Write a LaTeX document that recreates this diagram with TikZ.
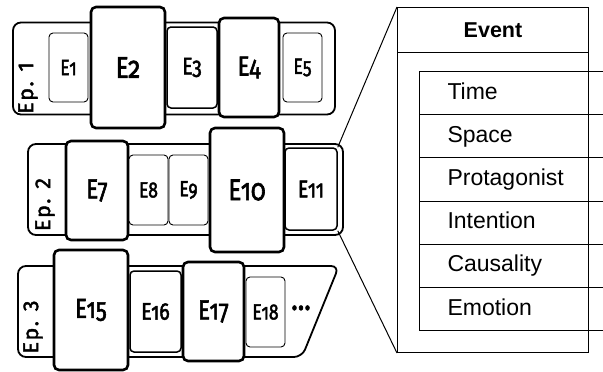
\documentclass[tikz,border=0pt]{standalone}
\usepackage{fontspec}
\setmainfont{Liberation Sans}
\newfontfamily\evfont[FakeStretch=0.8, FakeBold=2, Numbers=OldStyle]{Fira Sans}
\newfontfamily\epfont[FakeBold=2, LetterSpace=8]{Fira Sans}

\begin{document}
\begin{tikzpicture}[x=1pt, y=-1pt,
  ep/.style={draw, line width=1.8pt, rounded corners=8pt, inner sep=0pt},
  evS/.style={draw, fill=white, line width=0.9pt, rounded corners=4pt, inner sep=0pt, font=\evfont\fontsize{22}{24}\selectfont},
  evM/.style={evS, line width=1.5pt, font=\evfont\fontsize{24}{26}\selectfont},
  evL/.style={evS, line width=2.6pt, rounded corners=5pt, font=\evfont\fontsize{27.5}{30}\selectfont},
  evXL/.style={evL, font=\evfont\fontsize{30}{32}\selectfont},
  eplabel/.style={rotate=90, inner sep=0pt, font=\epfont\fontsize{21.5}{22}\selectfont},
  field/.style={draw, line width=1pt, anchor=north west, minimum height=43.2pt, text width=130pt, inner xsep=28pt, align=left, text height=16pt, text depth=4pt, font=\fontsize{23}{25}\selectfont}]
\useasboundingbox (0,0) rectangle (603,372);

% Episodio 1
\node[ep, minimum width=322pt, minimum height=92pt] (ep1) at (174,68.5) {};
\node[eplabel] (lab1) at (28,88) {Ep. 1};
\node[evS, minimum width=39pt, minimum height=69pt] (e1) at (68.5,67.5) {E1};
\node[evXL, minimum width=74pt, minimum height=121pt] (e2) at (128,67.5) {E2};
\node[evM, minimum width=50pt, minimum height=81pt] (e3) at (192,67.5) {E3};
\node[evL, minimum width=60pt, minimum height=99pt] (e4) at (249,67.5) {E4};
\node[evS, minimum width=39pt, minimum height=69pt] (e5) at (302.5,67.5) {E5};

% Episodio 2
\node[ep, minimum width=315pt, minimum height=91pt] (ep2) at (185.5,189.5) {};
\node[eplabel] (lab2) at (45,204.5) {Ep. 2};
\node[evL, minimum width=62pt, minimum height=99pt] (e7) at (97,190.5) {E7};
\node[evS, minimum width=39pt, minimum height=70pt] (e8) at (148.5,190) {E8};
\node[evS, minimum width=39pt, minimum height=70pt] (e9) at (188.5,190) {E9};
\node[evXL, minimum width=74pt, minimum height=124pt] (e10) at (247,190) {E10};
\node[evM, minimum width=52pt, minimum height=82pt] (e11) at (311,189) {E11};

% Episodio 3 (bordo destro inclinato)
\draw[line width=1.8pt, rounded corners=8pt] (18,266) -- (339,266) -- (302,357) -- (18,357) -- cycle;
\node[eplabel] (lab3) at (33,327) {Ep. 3};
\node[evL, minimum width=74pt, minimum height=120pt] (e15) at (91,310) {E15};
\node[evM, minimum width=51pt, minimum height=81pt] (e16) at (155.5,311.5) {E16};
\node[evL, minimum width=61pt, minimum height=99pt] (e17) at (213.5,311.5) {E17};
\node[evS, minimum width=39pt, minimum height=70pt] (e18) at (265.5,312) {E18};
\node[font=\evfont\fontsize{34}{36}\selectfont, inner sep=0pt] (dots) at (301,312) {\char"00B7\char"00B7\char"00B7};

% Evento espanso
\node[draw, line width=1pt, anchor=north west, minimum width=191pt, minimum height=345pt, inner sep=0pt] (panel) at (397,7) {};
\node[draw, line width=1pt, anchor=north west, minimum width=191pt, minimum height=45pt, inner sep=0pt, font=\bfseries\fontsize{21.5}{24}\selectfont] (head) at (397,7) {Event};
\foreach \nome [count=\i] in {Time, Space, Protagonist, Intention, Causality, Emotion}
  \node[field] (f\i) at (419,{71+43.2*(\i-1)}) {\nome};

\draw[line width=1pt] (e11.north east) -- (panel.north west);
\draw[line width=1pt] (e11.south east) -- (panel.south west);
\end{tikzpicture}
\end{document}
